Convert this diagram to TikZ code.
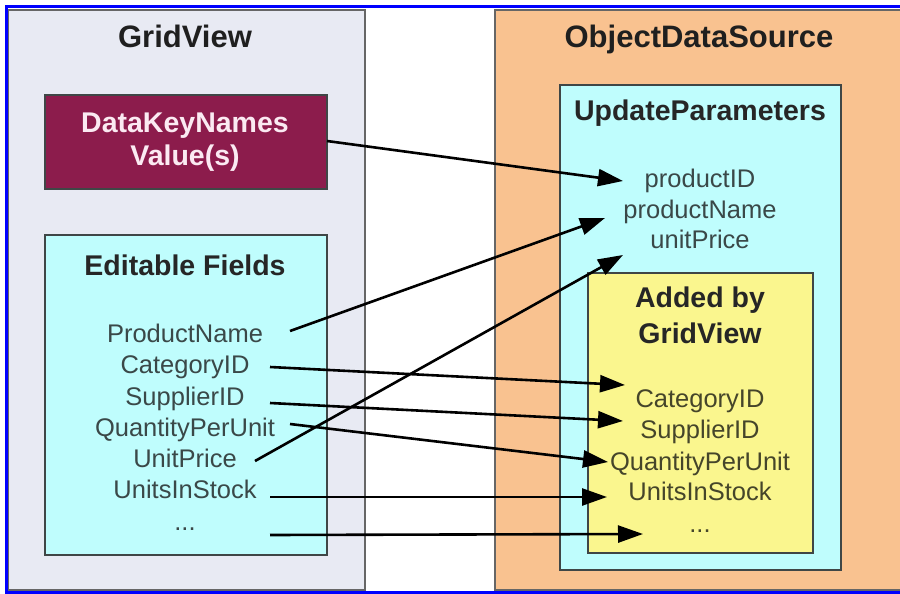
\documentclass[tikz,border=0pt]{standalone}
\usepackage{fontspec}
\setmainfont{Liberation Sans}
\usetikzlibrary{arrows.meta}
\definecolor{gvfill}{HTML}{E8EAF3}
\definecolor{odsfill}{HTML}{F9C290}
\definecolor{cyanfill}{HTML}{BFFDFD}
\definecolor{yelfill}{HTML}{FAF68E}
\definecolor{maroon}{HTML}{8C1C4C}
\definecolor{boxline}{HTML}{3F4646}
\definecolor{itemtxt}{HTML}{3A4848}
\definecolor{yeltxt}{HTML}{45452A}
\definecolor{frameblue}{HTML}{0000FF}
\definecolor{pinktxt}{HTML}{FBEAF2}
\begin{document}
\begin{tikzpicture}[x=1pt,y=-1pt,
  outerbox/.style={draw=gray!80!black,line width=1.5pt},
  innerbox/.style={draw=boxline,line width=2pt},
  titletxt/.style={font=\fontsize{31}{34}\selectfont\bfseries,text=black!88,anchor=base,inner sep=0pt},
  headtxt/.style={font=\fontsize{28.5}{31}\selectfont\bfseries,text=black!85,anchor=base,inner sep=0pt},
  itemtxt/.style={font=\fontsize{25.5}{28}\selectfont,text=itemtxt,anchor=base,inner sep=0pt},
  yitem/.style={font=\fontsize{25.5}{28}\selectfont,text=yeltxt,anchor=base,inner sep=0pt},
  link/.style={line width=2.6pt,-{Triangle[length=25pt,width=17pt]}}]
\useasboundingbox (0,0) rectangle (900,594);
\fill[white] (0,0) rectangle (900,594);
% frame
\draw[frameblue,line width=3pt] (900,6.5) -- (6.5,6.5) -- (6.5,592.5) -- (900,592.5);
% boxes
\path[outerbox,fill=gvfill] (8.5,10) rectangle (365,590);
\path[outerbox,fill=odsfill] (495,10) rectangle (903,590);
\path[innerbox,fill=maroon] (45,95) rectangle (327,189);
\path[innerbox,fill=cyanfill] (45,235) rectangle (327,555);
\path[innerbox,fill=cyanfill] (560,85) rectangle (841,570);
\path[innerbox,fill=yelfill] (588,273) rectangle (813,553);
% titles
\node[titletxt] (gvt) at (185,48) {GridView};
\node[titletxt] (odst) at (699,48) {ObjectDataSource};
\node[headtxt,text=pinktxt] (dkn) at (185,132) {DataKeyNames};
\node[headtxt,text=pinktxt] (dkv) at (185,165) {Value(s)};
\node[headtxt] (eft) at (185,275) {Editable Fields};
\node[headtxt] (upt) at (700,120) {UpdateParameters};
\node[headtxt] (abt) at (700,307) {Added by};
\node[headtxt] (abt2) at (700,343) {GridView};
% left items
\node[itemtxt] (lpn) at (185,342) {ProductName};
\node[itemtxt] (lcat) at (185,373) {CategoryID};
\node[itemtxt] (lsup) at (185,405) {SupplierID};
\node[itemtxt] (lqpu) at (185,436) {QuantityPerUnit};
\node[itemtxt] (lup) at (185,467) {UnitPrice};
\node[itemtxt] (luis) at (185,498) {UnitsInStock};
\node[itemtxt] (ldots) at (185,530) {...};
% update parameters
\node[itemtxt] (pid) at (700,187) {productID};
\node[itemtxt] (pname) at (700,218) {productName};
\node[itemtxt] (pprice) at (700,248) {unitPrice};
% added items
\node[yitem] (rcat) at (700,407) {CategoryID};
\node[yitem] (rsup) at (700,438) {SupplierID};
\node[yitem] (rqpu) at (700,470) {QuantityPerUnit};
\node[yitem] (ruis) at (700,500) {UnitsInStock};
\node[yitem] (rdots) at (700,532) {...};
% arrow end points
\coordinate (s1) at (327,141); \coordinate (t1) at (623,181);
\coordinate (s2) at (290,331); \coordinate (t2) at (605,218);
\coordinate (s3) at (255,461); \coordinate (t3) at (623,255);
\coordinate (s4) at (270,367); \coordinate (t4) at (625,385);
\coordinate (s5) at (270,403); \coordinate (t5) at (623,421);
\coordinate (s6) at (290,424); \coordinate (t6) at (608,462);
\coordinate (s7) at (270,497); \coordinate (t7) at (607,497);
\coordinate (s8) at (270,535); \coordinate (t8) at (643,534);
\draw[link] (s1) -- (t1);
\draw[link] (s2) -- (t2);
\draw[link] (s3) -- (t3);
\draw[link] (s4) -- (t4);
\draw[link] (s5) -- (t5);
\draw[link] (s6) -- (t6);
\draw[link] (s7) -- (t7);
\draw[link] (s8) -- (t8);
\end{tikzpicture}
\end{document}
